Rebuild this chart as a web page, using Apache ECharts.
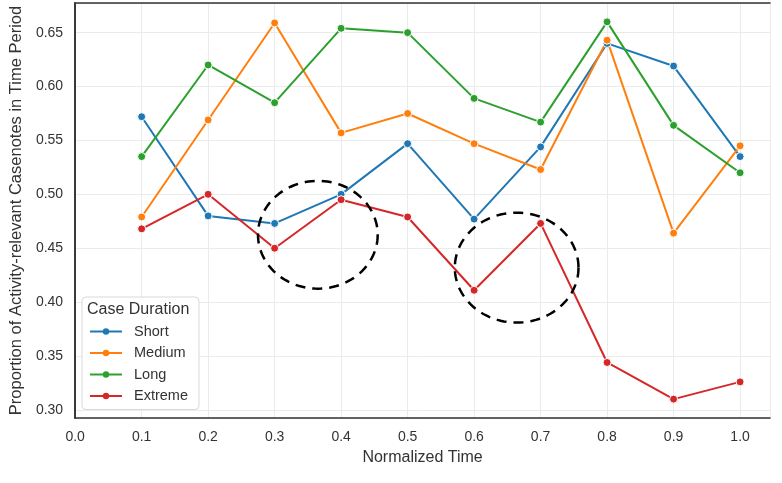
<!DOCTYPE html>
<html><head><meta charset="utf-8">
<script src="https://cdn.jsdelivr.net/npm/echarts@6/dist/echarts.min.js"></script>
<style>html,body{margin:0;padding:0;background:#fff}#c{width:782px;height:483px}</style>
</head><body><div id="c"></div>
<script>
const xValues = [0.1, 0.2, 0.3, 0.4, 0.5, 0.6, 0.7, 0.8, 0.9, 1.0];
const shortVals   = [0.572, 0.480, 0.473, 0.500, 0.547, 0.477, 0.544, 0.640, 0.619, 0.535];
const mediumVals  = [0.479, 0.569, 0.659, 0.557, 0.575, 0.547, 0.523, 0.643, 0.464, 0.545];
const longVals    = [0.535, 0.620, 0.585, 0.654, 0.650, 0.589, 0.567, 0.660, 0.564, 0.520];
const extremeVals = [0.468, 0.500, 0.450, 0.495, 0.479, 0.411, 0.473, 0.344, 0.310, 0.326];
const seriesNames = ['Short', 'Medium', 'Long', 'Extreme'];
const seriesColors = ['#1f77b4', '#ff7f0e', '#2ca02c', '#d62728'];
// annotation ellipses: [centerX, centerY, radiusX, radiusY] in data units
const ellipses = [[0.365, 0.4625, 0.090, 0.050], [0.664, 0.432, 0.093, 0.051]];

const font = 'Liberation Sans, Arial, sans-serif';
const allVals = [shortVals, mediumVals, longVals, extremeVals];
const chart = echarts.init(document.getElementById('c'), null, {renderer: 'canvas'});

const lineSeries = seriesNames.map((n, i) => ({
  name: n, type: 'line',
  data: xValues.map((x, j) => [x, allVals[i][j]]),
  symbol: 'circle', symbolSize: 8,
  lineStyle: {color: seriesColors[i], width: 2},
  itemStyle: {color: seriesColors[i], borderColor: '#fff', borderWidth: 1},
  emphasis: {disabled: true}, z: 3
}));

const ellipseSeries = {
  type: 'custom', name: 'annot', silent: true, z: 5,
  data: ellipses,
  renderItem: function (params, api) {
    const c = api.coord([api.value(0), api.value(1)]);
    const s = api.size([api.value(2), api.value(3)]);
    const pts = [];
    for (let k = 0; k <= 120; k++) {
      const a = k / 120 * Math.PI * 2;
      pts.push([c[0] + s[0] * Math.cos(a), c[1] + s[1] * Math.sin(a)]);
    }
    return {type: 'polyline', shape: {points: pts},
      style: {stroke: '#000', lineWidth: 2.5, lineDash: [10, 7], fill: null}};
  }
};

const frameLine = {show: true, lineStyle: {color: '#333', width: 1.6}};
const hidden = {show: false};

chart.setOption({
  animation: false,
  backgroundColor: '#fff',
  grid: {left: 72, right: 12, top: 3, bottom: 65, show: false, containLabel: false},
  title: {text: 'Case Duration', left: 82, top: 297, textStyle: {fontFamily: font, fontSize: 16, fontWeight: 'normal', color: '#333'}},
  legend: {
    data: seriesNames, orient: 'vertical', left: 82, top: 297,
    padding: [27, 11, 6, 7], itemGap: 6.5, itemWidth: 32, itemHeight: 8,
    backgroundColor: '#fff', borderColor: '#d9d9d9', borderWidth: 1, borderRadius: 4,
    itemStyle: {borderWidth: 0},
    textStyle: {fontFamily: font, fontSize: 14.5, color: '#333', padding: [0, 0, 0, 7]}
  },
  xAxis: [{
    type: 'value', min: 0, max: 1.045, interval: 0.1,
    name: 'Normalized Time', nameLocation: 'middle', nameGap: 32,
    nameTextStyle: {fontFamily: font, fontSize: 16, color: '#333'},
    axisLine: frameLine, axisTick: hidden,
    axisLabel: {fontFamily: font, fontSize: 14, color: '#333', margin: 12, showMaxLabel: false,
      formatter: v => v.toFixed(1)},
    splitLine: {show: true, lineStyle: {color: '#ebebeb', width: 1}}
  }, {
    type: 'value', min: 0, max: 1.045, position: 'top',
    axisLine: frameLine, axisTick: hidden, axisLabel: hidden, splitLine: hidden
  }],
  yAxis: [{
    type: 'value', min: 0.2925, max: 0.6775, splitNumber: 7,
    name: 'Proportion of Activity-relevant Casenotes in Time Period', nameLocation: 'middle', nameGap: 49,
    nameTextStyle: {fontFamily: font, fontSize: 16.5, color: '#333'},
    axisLine: frameLine, axisTick: hidden,
    axisLabel: {fontFamily: font, fontSize: 14, color: '#333', margin: 12, showMinLabel: false, showMaxLabel: false,
      formatter: v => v.toFixed(2)},
    splitLine: {show: true, lineStyle: {color: '#ebebeb', width: 1}}
  }, {
    type: 'value', min: 0.2925, max: 0.6775, position: 'right',
    axisLine: frameLine, axisTick: hidden, axisLabel: hidden, splitLine: hidden
  }],
  series: lineSeries.concat([ellipseSeries])
});
</script></body></html>
